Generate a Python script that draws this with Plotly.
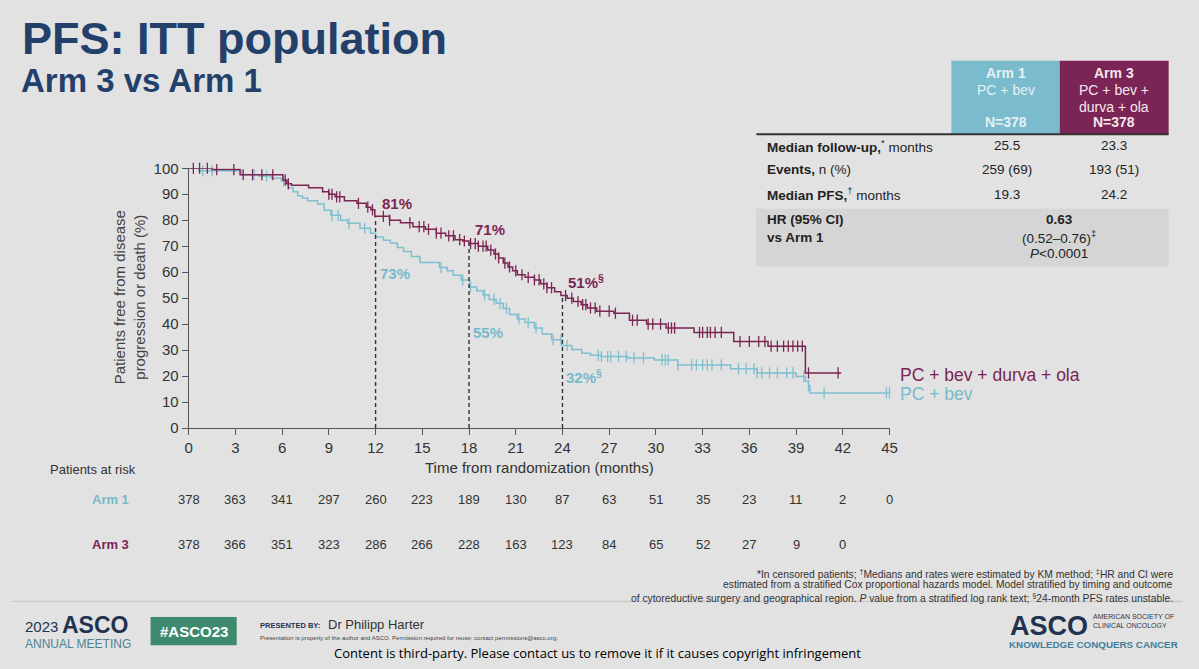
import numpy as np
import plotly.graph_objects as go

# ---------------- data ----------------
# Arm 3 (PC + bev + durva + ola) KM step points (months, % PFS)
arm3_t = [0, 1.5, 3.3, 6.05, 6.3, 6.6, 7.7, 8.6, 9.0, 9.4, 10.0, 10.8, 11.4, 11.7, 11.95, 12.9, 13.6,
          14.4, 15.2, 15.9, 16.5, 17.1, 17.6, 18.0, 18.6, 19.2, 19.6, 19.9, 20.2, 20.5, 20.8, 21.1,
          21.6, 22.2, 22.6, 23.0, 23.5, 23.9, 24.3, 24.7, 25.2, 25.6, 26.2, 27.3, 28.3, 29.4, 30.65,
          32.45, 35.0, 37.2, 39.6, 41.9]
arm3_s = [100, 99.5, 97.5, 95.5, 94, 93.5, 92.5, 91, 90, 89, 87.5, 86.5, 85, 84, 81.5, 80, 79,
          77.5, 76.5, 75, 74, 72.5, 72, 71, 70, 68.5, 67, 65.5, 63.5, 62, 60.5, 59,
          58, 57, 55.5, 54, 52.5, 51, 50, 48.7, 47.5, 46.2, 45, 44.2, 41.5, 40, 38.5,
          36.8, 33.3, 31.5, 21.2, 21.2]
arm3_censor = [0.3, 0.7, 1.2, 1.8, 2.9, 3.5, 4.1, 4.7, 5.4, 6.2, 6.4, 9.0, 9.2, 9.5, 9.7, 10.9, 11.5,
               11.8, 12.5, 12.9, 14.2, 14.8, 15.1, 15.4, 15.9, 16.2, 16.7, 17.0, 17.4, 17.7, 18.1,
               18.4, 18.6, 18.9, 19.1, 19.4, 19.7, 19.9, 20.3, 20.6, 21.0, 21.4, 21.8, 22.2, 22.5,
               22.8, 23.0, 23.3, 24.2, 24.6, 25.0, 25.3, 25.5, 25.8, 26.1, 26.4, 27.0, 27.4, 28.5,
               28.8, 29.5, 29.8, 30.3, 30.8, 31.0, 31.2, 32.8, 33.0, 33.3, 33.5, 33.8, 34.2, 35.4,
               36.0, 36.6, 37.0, 37.4, 37.8, 38.2, 38.5, 38.8, 39.1, 39.4, 39.8, 41.7]

# Arm 1 (PC + bev)
arm1_t = [0, 0.65, 3.4, 4.5, 5.3, 5.95, 6.37, 6.7, 7.0, 7.3, 7.65, 8.28, 8.7, 9.13, 9.76, 10.2, 11.0,
          11.67, 12.0, 12.5, 12.95, 13.4, 13.8, 14.3, 14.85, 16.1, 16.6, 16.98, 17.5, 18.04, 18.5,
          18.9, 19.3, 19.75, 20.2, 20.6, 21.1, 21.6, 22.2, 22.7, 23.3, 23.97, 24.6, 25.24, 25.8,
          26.5, 28.2, 29.9, 31.4, 34.8, 36.5, 39.0, 39.6, 39.8, 39.9, 45.0]
arm1_s = [100, 99, 97.5, 97, 96.2, 95, 92.5, 91, 89.4, 88.5, 87.5, 86.2, 83.8, 81.9, 80, 78.8, 76.9,
          75, 73.5, 72.3, 71.2, 69.5, 68, 66, 63.7, 61.8, 60.5, 58.8, 57, 54.3, 52.8,
          51.2, 49.5, 48, 46, 43.7, 42, 40.6, 38.5, 36.2, 34, 31.8, 30.2, 28.8, 28,
          27.5, 27, 26.2, 24.3, 22.8, 21.2, 19.8, 18, 16.2, 13.5, 13.5]
arm1_censor = [0.9, 1.5, 4.2, 5.0, 6.1, 9.2, 9.6, 10.3, 11.3, 16.2, 17.6, 18.1, 19.0, 19.6, 20.0,
               20.4, 21.2, 21.8, 22.3, 23.4, 23.9, 24.3, 26.3, 26.5, 26.9, 27.1, 27.6, 28.1, 28.6,
               29.2, 30.4, 30.6, 30.8, 31.4, 32.3, 32.6, 33.0, 33.3, 33.6, 34.2, 35.3, 35.8, 36.3,
               36.5, 36.8, 37.3, 37.8, 38.4, 38.8, 39.5, 39.8, 40.8, 44.8, 45.0]

landmark_months = [12, 18, 24]
arm3_rates = [81, 71, 51]
arm1_rates = [73, 55, 32]
arm3_rate_labels = ["81%", "71%", "51%<sup>§</sup>"]
arm1_rate_labels = ["73%", "55%", "32%<sup>§</sup>"]

risk_months = [0, 3, 6, 9, 12, 15, 18, 21, 24, 27, 30, 33, 36, 39, 42, 45]
arm1_risk = [378, 363, 341, 297, 260, 223, 189, 130, 87, 63, 51, 35, 23, 11, 2, 0]
arm3_risk = [378, 366, 351, 323, 286, 266, 228, 163, 123, 84, 65, 52, 27, 9, 0]

x_ticks = list(range(0, 46, 3))
y_ticks = list(range(0, 101, 10))

table_rows = ["<b>Median follow-up,</b><sup>*</sup> months", "<b>Events,</b> n (%)",
              "<b>Median PFS,</b><sup>†</sup> months"]
table_arm1 = ["25.5", "259 (69)", "19.3"]
table_arm3 = ["23.3", "193 (51)", "24.2"]
hr_lines = ["<b>0.63</b>", "(0.52–0.76)<sup>‡</sup>", "<i>P</i>&lt;0.0001"]

# ---------------- style ----------------
PAGE_W, PAGE_H = 1199, 669
BODY = 8  # default page margin around the figure
W, H = PAGE_W - 2 * BODY, PAGE_H - 2 * BODY
BG = "#E2E2E2"
PURPLE = "#7A2553"
TEAL = "#7EC0CF"
TEAL_TXT = "#77BACA"
NAVY = "#23406B"
FONT = "Liberation Sans, Arial, sans-serif"
AX = "#555555"


def px(x):
    return (x - BODY) / W


def py(y):
    return 1 - (y - BODY) / H


fig = go.Figure()


def step_y(times, surv, ct):
    idx = np.searchsorted(np.array(times), np.array(ct), side="right") - 1
    return [surv[i] for i in idx]


for t, s, c, col in [(arm1_t, arm1_s, arm1_censor, TEAL), (arm3_t, arm3_s, arm3_censor, PURPLE)]:
    fig.add_trace(go.Scatter(x=t, y=s, mode="lines", line=dict(color=col, width=1.5, shape="hv"),
                             hoverinfo="skip", showlegend=False, cliponaxis=False))
    fig.add_trace(go.Scatter(x=c, y=step_y(t, s, c), mode="markers",
                             marker=dict(symbol="line-ns", size=8, color=col,
                                         line=dict(color=col, width=1.3)),
                             hoverinfo="skip", showlegend=False, cliponaxis=False))

# dashed landmark lines
for m, r in zip(landmark_months, arm3_rates):
    fig.add_trace(go.Scatter(x=[m, m], y=[0, r], mode="lines",
                             line=dict(color="#333333", width=1.4, dash="4px,3px"),
                             hoverinfo="skip", showlegend=False))

# landmark labels
for m, r, lab in zip(landmark_months, arm3_rates, arm3_rate_labels):
    fig.add_annotation(x=m, y=r, xref="x", yref="y", text="<b>" + lab + "</b>", showarrow=False,
                       xanchor="left", yanchor="middle", xshift=4, yshift=14,
                       font=dict(family=FONT, size=15, color=PURPLE))
for m, r, lab, sh in zip(landmark_months, arm1_rates, arm1_rate_labels, [-35, -47, -32]):
    fig.add_annotation(x=m, y=r, xref="x", yref="y", text="<b>" + lab + "</b>", showarrow=False,
                       xanchor="left", yanchor="middle", xshift=2, yshift=sh,
                       font=dict(family=FONT, size=15, color=TEAL_TXT))

fig.update_layout(
    width=W, height=H, margin=dict(l=0, r=0, t=0, b=0),
    paper_bgcolor=BG, plot_bgcolor=BG, showlegend=False,
    xaxis=dict(domain=[px(186.5), px(894.5)], range=[0, 45], tickvals=x_ticks,
               showgrid=False, zeroline=False, showline=True, linecolor=AX, linewidth=1.2,
               ticks="outside", ticklen=6, tickcolor=AX, tickwidth=1.2,
               tickfont=dict(family=FONT, size=15, color="#333333")),
    yaxis=dict(domain=[py(430), py(163.3)], range=[0, 100], tickvals=y_ticks,
               showgrid=False, zeroline=False, showline=True, linecolor=AX, linewidth=1.2,
               ticks="outside", ticklen=6, tickcolor=AX, tickwidth=1.2,
               tickfont=dict(family=FONT, size=15, color="#333333")),
)


def txt(x, y, text, size, color="#333333", xa="left", ya="middle", angle=0, family=FONT):
    fig.add_annotation(x=px(x), y=py(y), xref="paper", yref="paper", text=text, showarrow=False,
                       xanchor=xa, yanchor=ya, textangle=angle,
                       font=dict(family=family, size=size, color=color))


# titles
txt(16, 30, "<b>PFS: ITT population</b>", 45, NAVY)
txt(15, 73, "<b>Arm 3 vs Arm 1</b>", 33, NAVY)

# axis titles
txt(127, 296, "Patients free from disease<br>progression or death (%)", 15, "#444444", xa="center",
    angle=-90)
txt(541, 471, "Time from randomization (months)", 15, "#333333", xa="center")

# curve labels
txt(903, 376, "PC + bev + durva + ola", 17.5, PURPLE)
txt(903, 395, "PC + bev", 17.5, TEAL_TXT)

# risk table
txt(44, 473, "Patients at risk", 13, "#333333")
txt(128, 503, "<b>Arm 1</b>", 13, TEAL_TXT, xa="right")
txt(128, 550, "<b>Arm 3</b>", 13, PURPLE, xa="right")
for m, n in zip(risk_months, arm1_risk):
    fig.add_annotation(x=m, y=py(503), xref="x", yref="paper", text=str(n), showarrow=False,
                       xanchor="center", yanchor="middle",
                       font=dict(family=FONT, size=13, color="#333333"))
for m, n in zip(risk_months, arm3_risk):
    fig.add_annotation(x=m, y=py(550), xref="x", yref="paper", text=str(n), showarrow=False,
                       xanchor="center", yanchor="middle",
                       font=dict(family=FONT, size=13, color="#333333"))

# summary table
shapes = []
shapes.append(dict(type="rect", xref="paper", yref="paper", x0=px(957), x1=px(1066.5), y0=py(128),
                   y1=py(53), fillcolor="#7ABBCD", line=dict(width=0), layer="below"))
shapes.append(dict(type="rect", xref="paper", yref="paper", x0=px(1066.5), x1=px(1176.5), y0=py(128),
                   y1=py(53), fillcolor="#7B2456", line=dict(width=0), layer="below"))
shapes.append(dict(type="rect", xref="paper", yref="paper", x0=px(760), x1=px(1176.5), y0=py(264),
                   y1=py(205), fillcolor="#D5D5D5", line=dict(width=0), layer="below"))
shapes.append(dict(type="line", xref="paper", yref="paper", x0=px(760), x1=px(1176.5), y0=py(128.5),
                   y1=py(128.5), line=dict(color="#333333", width=2)))
# footer separator
shapes.append(dict(type="line", xref="paper", yref="paper", x0=0, x1=1, y0=py(608), y1=py(608),
                   line=dict(color="#CACACA", width=1.5)))
# #ASCO23 box
shapes.append(dict(type="rect", xref="paper", yref="paper", x0=px(148), x1=px(235), y0=py(653),
                   y1=py(624), fillcolor="#3E8A6E", line=dict(width=0)))
fig.update_layout(shapes=shapes)

txt(1012, 66, "<b>Arm 1</b>", 14, "#E4F1F4", xa="center")
txt(1012, 83, "PC + bev", 14, "#E4F1F4", xa="center")
txt(1012, 116, "<b>N=378</b>", 14, "#E4F1F4", xa="center")
txt(1121, 66, "<b>Arm 3</b>", 14, "#F4E8EE", xa="center")
txt(1121, 83, "PC + bev +", 14, "#F4E8EE", xa="center")
txt(1121, 100, "durva + ola", 14, "#F4E8EE", xa="center")
txt(1121, 116, "<b>N=378</b>", 14, "#F4E8EE", xa="center")

for i, (lab, a1, a3) in enumerate(zip(table_rows, table_arm1, table_arm3)):
    yy = [140, 165, 190][i]
    txt(769, yy, lab, 13.5, "#222222")
    txt(1013, yy, a1, 13.5, "#222222", xa="center")
    txt(1121, yy, a3, 13.5, "#222222", xa="center")
txt(769, 216, "<b>HR (95% CI)</b>", 13.5, "#222222")
txt(769, 234, "<b>vs Arm 1</b>", 13.5, "#222222")
for yy, line in zip([216, 234, 251], hr_lines):
    txt(1066, yy, line, 13.5, "#222222", xa="center")

# footnote
txt(1183, 579, "*In censored patients; <sup>†</sup>Medians and rates were estimated by KM method; "
    "<sup>‡</sup>HR and CI were", 10.3, "#333333", xa="right")
txt(1183, 591, "estimated from a stratified Cox proportional hazards model. Model stratified by timing "
    "and outcome", 10.3, "#333333", xa="right")
txt(1183, 604, "of cytoreductive surgery and geographical region. <i>P</i> value from a stratified log "
    "rank text; <sup>§</sup>24-month PFS rates unstable.", 10.3, "#333333", xa="right")

# footer
txt(19, 634, "2023", 15, "#1F3250")
txt(56, 632, "<b>ASCO</b>", 23, "#1F3250")
txt(19, 652, "ANNUAL MEETING", 12, "#4F8396")
txt(191.5, 638.5, "<b>#ASCO23</b>", 15, "#FFFFFF", xa="center")
txt(257, 633, "<b>PRESENTED BY:</b>", 7.5, "#1F3250")
txt(325, 632, "Dr Philipp Harter", 13, "#333333")
txt(257, 646, "Presentation is property of the author and ASCO. Permission required for reuse; "
    "contact permissions@asco.org.", 6, "#444444")
txt(1014, 633, "<b>ASCO</b>", 27, "#1F3250")
txt(1098, 624, "AMERICAN SOCIETY OF", 7, "#333344")
txt(1098, 633, "CLINICAL ONCOLOGY", 7, "#333344")
txt(1013, 652, "<b>KNOWLEDGE CONQUERS CANCER</b>", 9.8, "#3F7E9B")
txt(600, 661, "Content is third-party. Please contact us to remove it if it causes copyright "
    "infringement", 13, "#000000", xa="center", family="Open Sans, sans-serif")

fig.write_html("out.html", config={"displayModeBar": False},
               post_script="document.body.style.background='" + BG + "';")
